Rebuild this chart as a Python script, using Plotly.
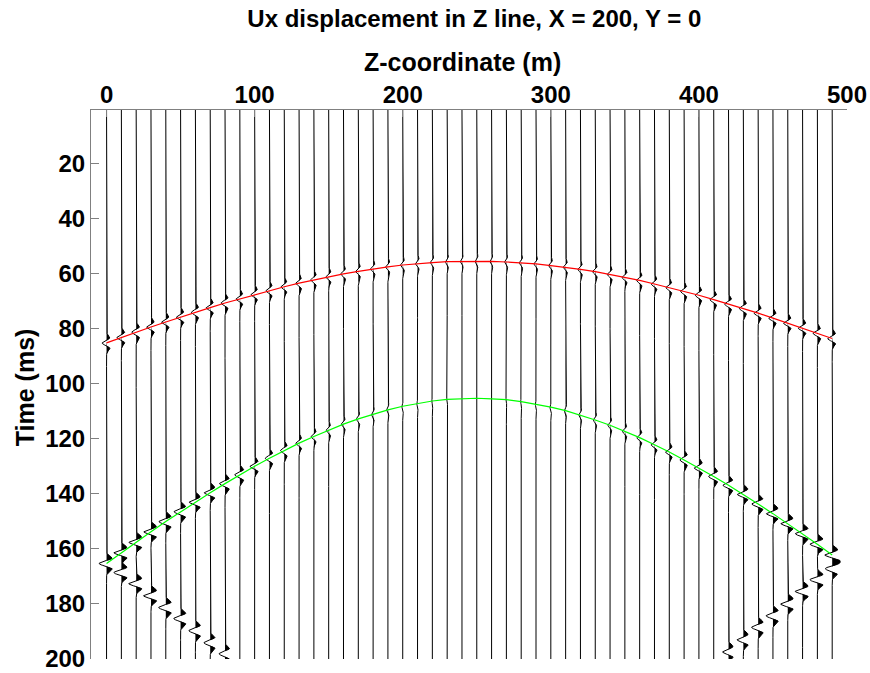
import numpy as np
import plotly.graph_objects as go

# ---------------- data ----------------
z_positions = [0, 10, 20, 30, 40, 50, 60, 70, 80, 90,
               100, 110, 120, 130, 140, 150, 160, 170, 180, 190,
               200, 210, 220, 230, 240, 250, 260, 270, 280, 290,
               300, 310, 320, 330, 340, 350, 360, 370, 380, 390,
               400, 410, 420, 430, 440, 450, 460, 470, 480, 490]

# direct arrival (red curve), ms
direct_time = [85.2, 83.2, 81.3, 79.4, 77.6, 75.8, 74.1, 72.4, 70.7, 69.2,
               67.6, 66.2, 64.8, 63.5, 62.3, 61.2, 60.1, 59.2, 58.3, 57.6,
               56.9, 56.4, 56.0, 55.7, 55.6, 55.5, 55.6, 55.8, 56.1, 56.5,
               57.1, 57.7, 58.5, 59.3, 60.3, 61.4, 62.5, 63.8, 65.1, 66.5,
               67.9, 69.5, 71.1, 72.7, 74.4, 76.2, 78.0, 79.8, 81.7, 83.6]

# reflected arrival (green curve), ms
reflect_time = [165.3, 161.4, 157.6, 153.8, 150.1, 146.5, 143.0, 139.6, 136.3, 133.1,
                130.0, 127.1, 124.3, 121.6, 119.2, 116.9, 114.7, 112.8, 111.1, 109.5,
                108.2, 107.2, 106.3, 105.7, 105.4, 105.3, 105.5, 105.8, 106.5, 107.4,
                108.5, 109.8, 111.4, 113.2, 115.1, 117.3, 119.6, 122.2, 124.8, 127.7,
                130.6, 133.7, 136.9, 140.2, 143.7, 147.2, 150.8, 154.5, 158.3, 162.2]

# wiggle amplitudes (in metres of trace deflection)
direct_amp = [3.0, 3.0, 2.9, 2.9, 2.8, 2.8, 2.7, 2.7, 2.6, 2.5,
              2.4, 2.3, 2.2, 2.1, 2.0, 1.9, 1.8, 1.7, 1.6, 1.5,
              1.4, 1.3, 1.2, 1.1, 1.0, 1.0, 1.0, 1.1, 1.2, 1.3,
              1.4, 1.5, 1.6, 1.7, 1.8, 1.9, 2.0, 2.1, 2.2, 2.3,
              2.4, 2.5, 2.6, 2.7, 2.7, 2.8, 2.8, 2.9, 2.9, 3.0]

reflect_amp = [5.0, 5.0, 4.9, 4.8, 4.6, 4.4, 4.2, 4.0, 3.7, 3.4,
               3.1, 2.8, 2.5, 2.2, 1.9, 1.6, 1.4, 1.2, 1.0, 0.8,
               0.6, 0.5, 0.4, 0.3, 0.2, 0.2, 0.2, 0.3, 0.4, 0.5,
               0.6, 0.8, 1.0, 1.2, 1.4, 1.6, 1.9, 2.2, 2.5, 2.8,
               3.1, 3.4, 3.7, 4.0, 4.2, 4.4, 4.6, 4.8, 4.9, 5.0]

# later, steeper event near the ends of the line
late_z = [10, 20, 30, 40, 50, 60, 70, 80,
          420, 430, 440, 450, 460, 470, 480, 490]
late_time = [168.6, 172.6, 177.0, 181.3, 185.3, 189.7, 194.1, 198.1,
             197.4, 193.0, 188.5, 184.3, 180.0, 175.4, 171.2, 167.2]
late_amp = [5.0, 5.0, 5.0, 4.8, 4.6, 4.4, 4.2, 4.0,
            4.0, 4.2, 4.4, 4.6, 4.8, 5.0, 5.0, 4.6]

x_ticks = [0, 100, 200, 300, 400, 500]
y_ticks = [20, 40, 60, 80, 100, 120, 140, 160, 180, 200]

# ---------------- build wiggle traces ----------------
T_TOP, T_BOT = 0.6, 200.0
t = np.arange(T_TOP, T_BOT + 0.01, 0.2)
FREQ = 0.2  # 1/ms


def wavelet(tau):
    a = (np.pi * FREQ * tau) ** 2
    w = -(1.0 - 2.0 * a) * np.exp(-a)
    return np.where(w > 0, 1.7 * w, w)


late_lookup = {z: (tt, aa) for z, tt, aa in zip(late_z, late_time, late_amp)}

line_x, line_y, fill_x, fill_y = [], [], [], []
for k, z in enumerate(z_positions):
    s = direct_amp[k] * wavelet(t - direct_time[k])
    s = s + reflect_amp[k] * wavelet(t - reflect_time[k])
    if z in late_lookup:
        tt, aa = late_lookup[z]
        s = s + aa * wavelet(t - tt)
    xs = z + s
    line_x.extend(xs.tolist() + [None])
    line_y.extend(t.tolist() + [None])
    xf = z + np.maximum(s, 0.0)
    fill_x.extend([z] + xf.tolist() + [z, None])
    fill_y.extend([T_TOP] + t.tolist() + [T_BOT, None])

fig = go.Figure()
fig.add_trace(go.Scatter(x=fill_x, y=fill_y, mode="lines", fill="toself",
                         fillcolor="black", line=dict(width=0, color="black"),
                         hoverinfo="skip", showlegend=False))
fig.add_trace(go.Scatter(x=line_x, y=line_y, mode="lines",
                         line=dict(width=1, color="black"),
                         hoverinfo="skip", showlegend=False))
fig.add_trace(go.Scatter(x=z_positions, y=direct_time, mode="lines",
                         line=dict(width=1.2, color="#ff0000"), showlegend=False))
fig.add_trace(go.Scatter(x=z_positions, y=reflect_time, mode="lines",
                         line=dict(width=1.2, color="#00ff00"), showlegend=False))

FONT = dict(family="Liberation Sans, Arial, sans-serif", color="black", weight="bold")

fig.update_layout(
    width=870, height=673,
    margin=dict(l=91, r=23, t=110, b=14),
    paper_bgcolor="white", plot_bgcolor="white",
    font=dict(**FONT, size=24),
    title=dict(text="Ux displacement in Z line, X = 200, Y = 0",
               x=0.507, xref="paper", xanchor="center",
               y=1 - 19 / 673, yref="container", yanchor="middle",
               font=dict(**FONT, size=24)),
    showlegend=False,
    annotations=[
        dict(text="Z-coordinate (m)", xref="paper", yref="paper",
             x=0.492, y=1 + (110 - 62) / 549, xanchor="center", yanchor="middle",
             showarrow=False, font=dict(**FONT, size=25)),
        dict(text="Time (ms)", xref="paper", yref="paper", textangle=-90,
             x=(25 - 91) / 756, y=0.495, xanchor="center", yanchor="middle",
             showarrow=False, font=dict(**FONT, size=25)),
    ],
)
fig.update_xaxes(
    side="top", range=[-10.5, 500], tickvals=x_ticks, automargin=False,
    ticks="inside", ticklen=7, tickcolor="#808080", tickwidth=1,
    showline=True, linecolor="#808080", linewidth=1, mirror=False,
    showgrid=False, zeroline=False, ticklabelstandoff=-4,
    tickfont=dict(**FONT, size=24),
)
fig.update_yaxes(
    range=[200, 0.6], tickvals=y_ticks, automargin=False,
    ticks="inside", ticklen=8, tickcolor="#808080", tickwidth=1,
    showline=True, linecolor="#808080", linewidth=1, mirror=False,
    showgrid=False, zeroline=False,
    tickfont=dict(**FONT, size=24),
)

fig.write_html("out.html", config={"displayModeBar": False},
               post_script="document.body.style.margin='0px';")
